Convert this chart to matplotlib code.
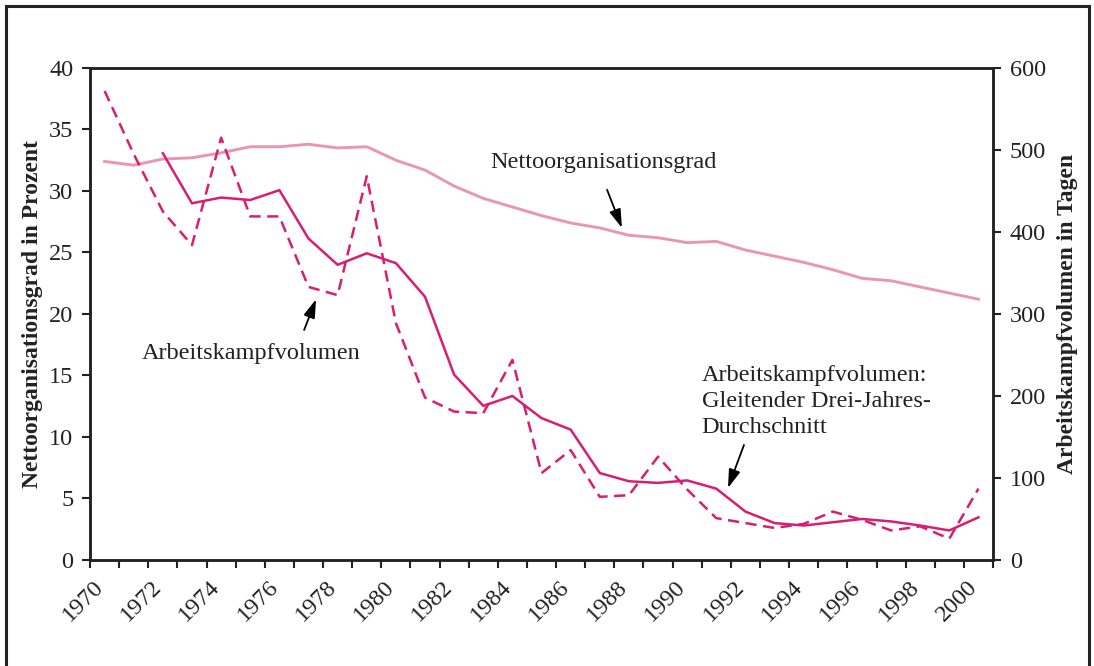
import numpy as np
import matplotlib
matplotlib.use("Agg")
import matplotlib.pyplot as plt
from matplotlib.lines import Line2D

plt.rcParams["font.family"] = ["Liberation Serif", "DejaVu Serif"]

years = list(range(1970, 2001))
# Nettoorganisationsgrad in Prozent (linke Achse)
netto = [32.4, 32.1, 32.6, 32.7, 33.1, 33.6, 33.6, 33.8, 33.5, 33.6,
         32.5, 31.7, 30.4, 29.4, 28.7, 28.0, 27.4, 27.0, 26.4, 26.2,
         25.8, 25.9, 25.2, 24.7, 24.2, 23.6, 22.9, 22.7, 22.2, 21.7, 21.2]
# Arbeitskampfvolumen in Tagen (rechte Achse)
volumen = [572, 495, 425, 384, 515, 419, 419, 333, 323, 468,
           289, 198, 181, 179, 244, 106, 134, 77, 79, 126,
           86, 51, 45, 39, 44, 59, 49, 36, 41, 26, 87]
# Gleitender Drei-Jahres-Durchschnitt (rechte Achse)
volumen_avg = [np.nan, np.nan, 496, 435, 442, 439, 451, 392, 360, 374,
               362, 321, 226, 188, 200, 173, 159, 106, 96, 94,
               97, 87, 59, 45, 42, 46, 50, 47, 42, 36, 52]

pink = "#E996B5"
magenta = "#D81E74"
ink = "#222222"

fig = plt.figure(figsize=(10.94, 6.66), dpi=100)
ax = fig.add_axes([0.0823, 0.1592, 0.8254, 0.7387])
ax2 = ax.twinx()

x = np.arange(len(years))
ax.plot(x, netto, color=pink, lw=2.1)
ax2.plot(x, volumen, color=magenta, lw=1.8, dashes=(4.5, 2.6))
ax2.plot(x, volumen_avg, color=magenta, lw=1.8)

ax.set_xlim(-0.5, len(years) - 0.5)
ax.set_ylim(0, 40)
ax2.set_ylim(0, 600)
ax.set_yticks(range(0, 41, 5))
ax2.set_yticks(range(0, 601, 100))

# Ticks between categories, labels at category centres
ax.set_xticks(np.arange(-0.5, len(years), 1.0))
ax.set_xticklabels([])
ax.set_xticks(x[::2] + 0.1, [str(y) for y in years[::2]], minor=True)
ax.tick_params(axis="x", which="major", direction="out", length=6, width=1.5, color=ink)
ax.tick_params(axis="x", which="minor", length=0, pad=12, labelsize=17.5, labelrotation=45,
               labelcolor=ink)
for lab in ax.get_xticklabels(minor=True):
    lab.set_ha("right")
    lab.set_va("top")

ax.tick_params(axis="y", direction="out", length=6, width=1.5, color=ink, labelsize=17.5,
               pad=6, labelcolor=ink)
ax2.tick_params(axis="y", direction="out", length=6, width=1.5, color=ink, labelsize=17.5,
                pad=6, labelcolor=ink)

for a in (ax, ax2):
    for s in a.spines.values():
        s.set_linewidth(1.8)
        s.set_color(ink)

ax.set_ylabel("Nettoorganisationsgrad in Prozent", fontsize=17, fontweight="bold",
              labelpad=4, color=ink)
ax2.set_ylabel("Arbeitskampfvolumen in Tagen", fontsize=17, fontweight="bold",
               labelpad=8, color=ink)

arrow = dict(arrowstyle="-|>,head_length=0.7,head_width=0.22", color="black", lw=1.3,
             mutation_scale=16, shrinkA=0, shrinkB=0)
ax.text(17.11, 32.3, "Nettoorganisationsgrad", fontsize=17.5, ha="center", va="center", color=ink)
ax.annotate("", xy=(17.76, 27.0), xytext=(17.25, 30.1), arrowprops=arrow)

ax.text(5.04, 16.8, "Arbeitskampfvolumen", fontsize=17.5, ha="center", va="center", color=ink)
ax.annotate("", xy=(7.26, 21.2), xytext=(6.85, 18.7), arrowprops=arrow)

ax.text(20.5, 15.85, "Arbeitskampfvolumen:\nGleitender Drei-Jahres-\nDurchschnitt",
        fontsize=17.5, ha="left", va="top", color=ink, linespacing=1.3)
ax.annotate("", xy=(21.4, 5.85), xytext=(21.95, 9.35), arrowprops=arrow)

# outer frame
fw, fh = 1094, 666
frame_kw = dict(color=ink, lw=2.2, transform=fig.transFigure)
fig.add_artist(Line2D([6 / fw, 6 / fw], [0, 1 - 6 / fh], **frame_kw))
fig.add_artist(Line2D([6 / fw, 1089 / fw], [1 - 6 / fh, 1 - 6 / fh], **frame_kw))
fig.add_artist(Line2D([1089 / fw, 1089 / fw], [0, 1 - 6 / fh], **frame_kw))

fig.savefig("out.png", dpi=100)
